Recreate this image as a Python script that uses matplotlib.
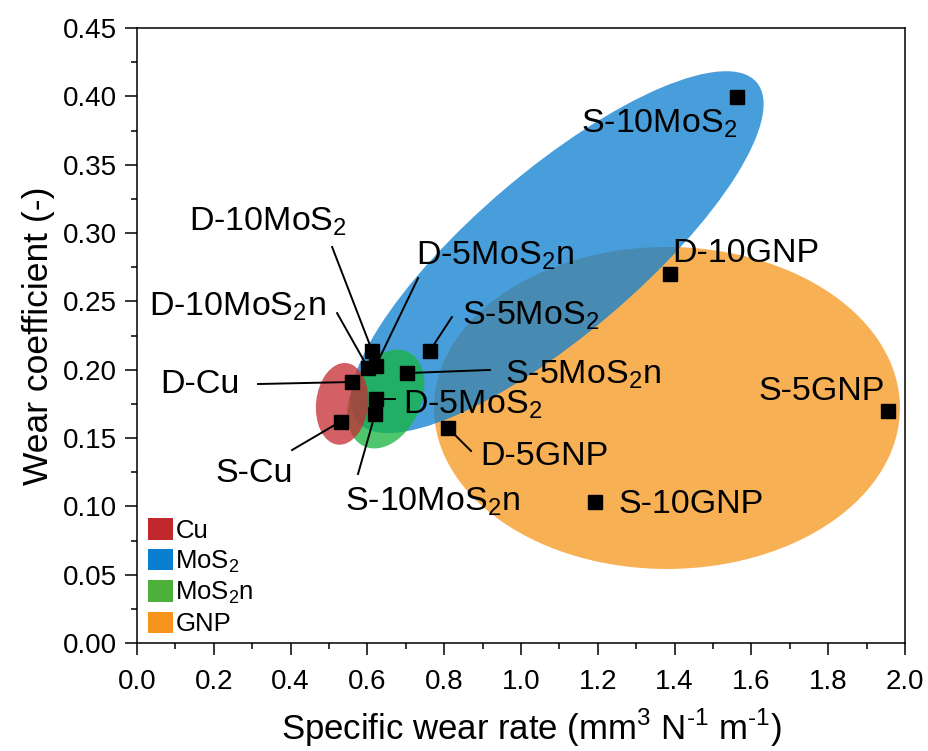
import matplotlib.pyplot as plt
import matplotlib.transforms as mtransforms
from matplotlib.patches import Ellipse, Patch

plt.rcParams['font.family'] = ['Liberation Sans', 'DejaVu Sans']
plt.rcParams['mathtext.fontset'] = 'custom'
plt.rcParams['mathtext.rm'] = 'Liberation Sans'

# samples: specific wear rate (mm3/Nm) and wear coefficient
names = ['S-Cu', 'D-Cu', 'D-10MoS2', 'D-10MoS2n', 'D-5MoS2n', 'D-5MoS2',
         'S-10MoS2n', 'S-5MoS2n', 'S-5MoS2', 'D-5GNP', 'S-10GNP', 'D-10GNP',
         'S-10MoS2', 'S-5GNP']
wear_rate = [0.53, 0.561, 0.612, 0.602, 0.622, 0.622,
             0.620, 0.702, 0.763, 0.811, 1.193, 1.388,
             1.563, 1.955]
wear_coef = [0.162, 0.191, 0.214, 0.201, 0.203, 0.1785,
             0.1676, 0.1975, 0.214, 0.157, 0.1034, 0.270,
             0.3997, 0.170]

groups = ['Cu', 'MoS2', 'MoS2n', 'GNP']
group_labels = ['Cu', r'MoS$_\mathregular{2}$', r'MoS$_\mathregular{2}$n', 'GNP']
group_colors = ['#c0282d', '#0a7ecf', '#4cb03a', '#f7941d']
fill_colors = ['#c42e33', '#0f80d0', '#17b43f', '#f7971f']


def pretty(n):
    return n.replace('MoS2', r'MoS$_\mathregular{2}$')


# label layout: text anchor (data), ha, start of leader line (None = no line)
label_pos = {
    'S-Cu': (0.203, 0.1178, 'left', (0.4036, 0.1412)),
    'D-Cu': (0.060, 0.1829, 'left', (0.315, 0.1895)),
    'D-10MoS2': (0.135, 0.302, 'left', (0.508, 0.2898)),
    'D-10MoS2n': (0.031, 0.240, 'left', (0.521, 0.2414)),
    'D-5MoS2n': (0.7266, 0.2773, 'left', (0.7318, 0.267)),
    'D-5MoS2': (0.693, 0.1683, 'left', (0.672, 0.1785)),
    'S-10MoS2n': (0.542, 0.0973, 'left', (0.5755, 0.1237)),
    'S-5MoS2n': (0.958, 0.190, 'left', (0.919, 0.1998)),
    'S-5MoS2': (0.846, 0.2334, 'left', (0.820, 0.2385)),
    'D-5GNP': (0.893, 0.130, 'left', (0.8698, 0.1405)),
    'S-10GNP': (1.255, 0.0951, 'left', None),
    'D-10GNP': (1.393, 0.2788, 'left', None),
    'S-10MoS2': (1.562, 0.374, 'right', None),
    'S-5GNP': (1.947, 0.1778, 'right', None),
}

# group regions: centre (data), width/height (inches), angle
regions = {
    'GNP': ((1.380, 0.172), 4.66, 3.22, 0),
    'MoS2': ((1.094, 0.286), 5.24, 1.64, 40.4),
    'MoS2n': ((0.648, 0.1785), 1.04, 0.70, 65),
    'Cu': ((0.534, 0.175), 0.52, 0.82, -6),
}

fig = plt.figure(figsize=(9.29, 7.51), dpi=100)
ax = fig.add_axes([0.1475, 0.1438, 0.8267, 0.8189])
ax.set_xlim(0, 2.0)
ax.set_ylim(0, 0.45)

for g in ['GNP', 'MoS2', 'MoS2n', 'Cu']:
    (cx, cy), w, h, ang = regions[g]
    tr = fig.dpi_scale_trans + mtransforms.ScaledTranslation(cx, cy, ax.transData)
    e = Ellipse((0, 0), w, h, angle=ang, transform=tr,
                facecolor=fill_colors[groups.index(g)], alpha=0.76,
                edgecolor='none', zorder=1)
    ax.add_patch(e)

for n, x, y in zip(names, wear_rate, wear_coef):
    tx, ty, ha, lstart = label_pos[n]
    if lstart is not None:
        ax.plot([lstart[0], x], [lstart[1], y], color='black', lw=1.4, zorder=3)
    ax.text(tx, ty, pretty(n), ha=ha, va='baseline', fontsize=24.5, zorder=5)

ax.plot(wear_rate, wear_coef, 's', color='black', ms=10.5, zorder=4)

ax.set_xticks([i * 0.2 for i in range(11)])
ax.set_xticks([i * 0.1 for i in range(21)], minor=True)
ax.set_yticks([i * 0.05 for i in range(10)])
ax.set_yticks([i * 0.025 for i in range(19)], minor=True)
ax.set_xticklabels(['%.1f' % (i * 0.2) for i in range(11)])
ax.set_yticklabels(['%.2f' % (i * 0.05) for i in range(10)])
ax.tick_params(which='major', direction='out', length=8.6, width=1.1,
               labelsize=20, top=False, right=False)
ax.tick_params(which='minor', direction='out', length=4.3, width=1.1,
               top=False, right=False)
ax.tick_params(axis='x', which='major', pad=10)
ax.tick_params(axis='y', which='major', pad=6)
for s in ax.spines.values():
    s.set_linewidth(1.1)

ax.set_xlabel(r'Specific wear rate (mm$^\mathregular{3}$ N$^\text{-1}$ m$^\text{-1}$)',
              fontsize=25)
ax.xaxis.label.set_va('baseline')
ax.xaxis.set_label_coords(0.513, -0.157)
ax.set_ylabel('Wear coefficient (-)', fontsize=25.5)
ax.yaxis.set_label_coords(-0.107, 0.5)

handles = [Patch(facecolor=c, edgecolor='none') for c in group_colors]
ax.legend(handles, group_labels, loc='lower left', bbox_to_anchor=(0.014, 0.011),
          frameon=False, fontsize=18.5, handlelength=0.97, handleheight=0.92,
          handletextpad=0.1, labelspacing=0.2, borderpad=0, borderaxespad=0)

fig.savefig('out.png', dpi=100)
